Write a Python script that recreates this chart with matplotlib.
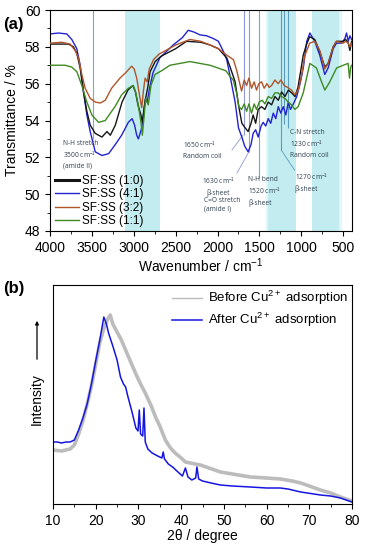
import numpy as np
import matplotlib
matplotlib.use("Agg")
import matplotlib.pyplot as plt
from matplotlib.ticker import MultipleLocator

plt.rcParams['font.family'] = ['Liberation Sans', 'DejaVu Sans']
plt.rcParams['mathtext.fontset'] = 'custom'
plt.rcParams['mathtext.rm'] = 'Liberation Sans'
plt.rcParams['mathtext.it'] = 'Liberation Sans:italic'
plt.rcParams['mathtext.bf'] = 'Liberation Sans:bold'

# ---- (a) FTIR data ----
wn_10 = [4000, 3900, 3780, 3720, 3680, 3640, 3600, 3560, 3520, 3460, 3380, 3320, 3280, 3220, 3140, 3070,
         3010, 2980, 2950, 2915, 2898, 2867, 2835, 2805, 2745, 2670, 2500, 2370, 2200, 2090, 1990, 1890,
         1850, 1790, 1750, 1710, 1670, 1635, 1600, 1575, 1545, 1515, 1475, 1435, 1395, 1355, 1315, 1275,
         1235, 1195, 1155, 1115, 1075, 1040, 1000, 977, 940, 900, 840, 780, 720, 680, 620, 580, 500, 470,
         440, 420, 400]
t_10 = [58.15, 58.15, 58.15, 58.0, 57.65, 56.85, 55.55, 54.5, 53.75, 53.3, 53.1, 53.4, 53.2, 53.75, 55.0, 55.65,
        55.9, 55.55, 54.85, 54.3, 53.9, 55.0, 55.75, 56.65, 57.2, 57.5, 57.9, 58.3, 58.25, 58.1, 57.9, 57.4,
        56.9, 56.1, 54.85, 53.85, 53.6, 53.4, 53.85, 54.3, 53.85, 54.6, 54.75, 54.6, 55.0, 54.85, 55.3, 55.1,
        55.55, 55.3, 55.65, 55.5, 55.3, 55.8, 56.9, 57.55, 58.1, 58.55, 58.4, 57.75, 56.9, 57.1, 58.0, 58.3, 58.3, 58.4,
        58.2, 57.8, 58.3]

wn_41 = [4000, 3900, 3800, 3740, 3680, 3640, 3600, 3560, 3520, 3460, 3380, 3300, 3220, 3145, 3065, 3020,
         2990, 2965, 2945, 2925, 2905, 2880, 2860, 2840, 2810, 2770, 2690, 2530, 2420, 2350, 2280, 2210,
         2130, 2050, 1990, 1930, 1890, 1850, 1790, 1750, 1710, 1675, 1635, 1600, 1575, 1545, 1515, 1480,
         1455, 1425, 1395, 1365, 1335, 1305, 1275, 1245, 1215, 1185, 1155, 1130, 1095, 1055, 1015, 975,
         935, 898, 840, 780, 720, 680, 620, 580, 520, 480, 460, 440, 420, 400]
t_41 = [58.7, 58.75, 58.7, 58.4, 57.9, 57.0, 55.55, 54.3, 53.4, 52.3, 52.1, 52.2, 52.7, 53.2, 53.9, 54.1,
        53.75, 53.2, 53.0, 53.3, 53.6, 54.5, 55.2, 55.0, 55.8, 56.6, 57.4, 58.1, 58.5, 58.9, 58.8, 58.65,
        58.6, 58.45, 58.3, 57.75, 57.3, 56.4, 55.0, 53.6, 53.1, 52.6, 52.3, 52.7, 53.3, 53.5, 53.1, 53.7,
        53.9, 53.7, 54.1, 53.85, 54.4, 54.1, 54.75, 54.4, 54.75, 54.3, 55.0, 54.6, 54.9, 55.3, 56.0, 56.9,
        58.3, 58.75, 58.3, 57.55, 56.5, 56.85, 57.9, 58.2, 58.2, 58.45, 58.75, 58.3, 58.6, 58.4]

wn_32 = [4000, 3860, 3760, 3700, 3660, 3620, 3580, 3520, 3460, 3400, 3340, 3265, 3165, 3085, 3025, 2995,
         2965, 2925, 2905, 2885, 2865, 2840, 2815, 2765, 2700, 2500, 2330, 2200, 2090, 1990, 1890, 1810,
         1770, 1745, 1713, 1682, 1653, 1626, 1594, 1563, 1535, 1507, 1474, 1443, 1411, 1384, 1355, 1315,
         1276, 1244, 1204, 1165, 1117, 1077, 1038, 998, 960, 900, 840, 780, 720, 680, 620, 580, 500, 470,
         440, 420, 400]
t_32 = [58.2, 58.25, 58.15, 57.8, 57.4, 56.5, 55.75, 55.2, 55.0, 54.95, 55.1, 55.75, 56.3, 56.65, 56.95, 56.8,
        56.3, 55.2, 54.7, 55.6, 56.3, 56.1, 56.8, 57.3, 57.6, 58.1, 58.4, 58.3, 58.1, 57.9, 57.55, 57.3,
        56.7, 56.2, 55.6, 56.2, 55.9, 56.3, 55.75, 56.1, 55.65, 56.0, 56.1, 55.75, 56.0, 55.8, 55.9, 56.2,
        56.0, 56.2, 55.9, 55.8, 55.65, 55.4, 55.65, 56.4, 57.5, 58.2, 58.3, 57.8, 56.8, 57.1, 58.0, 58.3, 58.2, 58.3,
        58.2, 58.0, 58.2]

wn_11 = [4000, 3820, 3740, 3680, 3620, 3560, 3500, 3420, 3340, 3264, 3224, 3144, 3066, 3006, 2978, 2947,
         2914, 2898, 2875, 2859, 2827, 2795, 2747, 2668, 2568, 2330, 2090, 1900, 1852, 1813, 1773, 1745,
         1713, 1682, 1653, 1626, 1594, 1563, 1535, 1503, 1467, 1434, 1395, 1355, 1315, 1276, 1235, 1196,
         1157, 1117, 1077, 1038, 977, 898, 819, 759, 719, 660, 579, 500, 441, 425, 410, 400]
t_11 = [57.0, 57.0, 56.9, 56.65, 55.9, 55.0, 54.3, 53.9, 54.0, 54.5, 54.75, 55.4, 55.75, 55.9, 55.55, 54.85,
        53.9, 53.2, 54.3, 55.2, 54.85, 55.9, 56.5, 56.7, 57.0, 57.2, 57.0, 56.7, 56.4, 56.2, 55.5, 54.75,
        54.6, 54.9, 54.5, 54.9, 54.4, 54.9, 54.6, 55.0, 55.1, 54.9, 55.3, 55.2, 55.5, 55.5, 55.3, 55.2,
        55.0, 54.85, 54.6, 54.75, 55.5, 57.1, 56.85, 56.1, 55.65, 56.1, 56.85, 57.0, 57.1, 56.3, 56.9, 57.0]

ftir_labels = ['SF:SS (1:0)', 'SF:SS (4:1)', 'SF:SS (3:2)', 'SF:SS (1:1)']
ftir_colors = ['#151515', '#2323d0', '#b0552a', '#3f8a22']

bands = [(3105, 2690), (1398, 1064), (873, 550)]

# ---- (b) XRD data ----
tt_before = [10, 12, 14, 15, 16, 17, 18, 19, 20, 21, 22, 22.8, 23.4, 24, 25, 26, 27, 28, 29.3, 30.5, 31.6,
             33, 34, 35, 36.3, 37.5, 38.6, 40, 41, 44.5, 49.2, 52, 56.2, 60, 63.2, 66, 68, 70, 72.6, 75,
             77.3, 80]
i_before = [54, 53, 55, 59, 70, 83, 100, 118, 140, 162, 177, 185, 189, 180, 172, 164, 154, 144, 131, 120, 111,
            98, 87, 78, 64, 56, 51, 46, 42, 39, 32, 30, 27, 26, 25, 23, 21, 18, 14, 11,
            7, 3]
tt_after = [10, 11, 12, 13, 14, 15, 16, 17, 18, 19, 20, 21, 21.9, 22.5, 23, 24, 25, 25.8, 26.5, 27, 27.5,
            28.5, 29.4, 29.9, 30.2, 30.5, 31.0, 31.3, 31.6, 32.2, 33.2, 34.5, 35.5, 35.8, 36.1, 37, 38, 39,
            40.3, 41.0, 41.6, 42.5, 43.4, 43.7, 44.1, 45, 47, 49.2, 52, 56.2, 60, 63.2, 65, 68, 72.6, 75,
            77.3, 80]
i_after = [62, 62, 61, 62, 62, 64, 74, 86, 100, 120, 143, 165, 187, 180, 171, 158, 144, 127, 120, 117, 108,
           92, 76, 73, 94, 70, 68, 96, 62, 55, 51, 48, 46, 52, 45, 40, 37, 33,
           28, 36, 27, 24, 26, 37, 25, 23, 21, 19, 18, 17, 16, 16, 15, 12, 9, 8,
           6, 2]

fig = plt.figure(figsize=(3.65, 5.5), dpi=100)

# ================= panel (a) =================
ax1 = fig.add_axes([50/365, 1-231/550, 302/365, 221/550])
for b in bands:
    ax1.axvspan(b[0], b[1], color='#c2ecef', lw=0, zorder=0)
ax1.axvspan(1425, 1398, color='#e2f6f7', lw=0, zorder=0)
ax1.axvspan(550, 515, color='#e2f6f7', lw=0, zorder=0)

# marker lines
ax1.vlines(3483, 53.0, 60, color='#7fa6c6', lw=0.8, zorder=1)
ax1.vlines([1690, 1625], [53.2, 52.3], 60, color='#8e98d8', lw=0.8, zorder=1)
ax1.vlines(1510, 50.9, 60, color='#8e98d8', lw=0.8, zorder=1)
ax1.vlines([1240, 1210, 1160], [52.4, 53.8, 53.6], 60, color='#5b9cba', lw=0.8, zorder=1)
ax1.plot([1828, 1697], [52.4, 53.2], color='#8e98d8', lw=0.6)
ax1.plot([1768, 1625], [51.15, 52.3], color='#8e98d8', lw=0.6)
ax1.plot([1240, 1080], [52.4, 51.3], color='#5b9cba', lw=0.6)

ax1.plot(wn_10, t_10, color=ftir_colors[0], lw=1.0, label=ftir_labels[0], zorder=3)
ax1.plot(wn_41, t_41, color=ftir_colors[1], lw=1.0, label=ftir_labels[1], zorder=2)
ax1.plot(wn_32, t_32, color=ftir_colors[2], lw=1.0, label=ftir_labels[2], zorder=4)
ax1.plot(wn_11, t_11, color=ftir_colors[3], lw=1.0, label=ftir_labels[3], zorder=3)

ann = dict(fontsize=4.8, color='#2f3f4f', va='top', linespacing=1.35, family=['Open Sans', 'DejaVu Sans'])
ax1.text(3845, 52.95, 'N-H stretch\n3500 cm$^{-1}$\n(amide II)', **ann)
ax1.text(2413, 52.95, '1650 cm$^{-1}$\nRandom coil', **ann)
ax1.text(1990, 51.0, '1630 cm$^{-1}$\nβ-sheet', ha='center', multialignment='center', **ann)
ax1.text(2160, 49.85, 'C=O stretch\n(amide I)', **ann)
ax1.text(1637, 51.0, 'N-H bend\n1520 cm$^{-1}$\nβ-sheet', **ann)
ax1.text(1136, 53.55, 'C-N stretch\n1230 cm$^{-1}$\nRandom coil', **ann)
ax1.text(1077, 51.2, '1270 cm$^{-1}$\nβ-sheet', **ann)

ax1.set_xlim(4000, 395)
ax1.set_ylim(48, 60)
ax1.xaxis.set_major_locator(MultipleLocator(500))
ax1.xaxis.set_minor_locator(MultipleLocator(250))
ax1.yaxis.set_major_locator(MultipleLocator(2))
ax1.yaxis.set_minor_locator(MultipleLocator(1))
ax1.tick_params(which='both', direction='out', top=False, right=False, labelsize=10)
ax1.tick_params(which='major', length=3.5)
ax1.tick_params(which='minor', length=2)
ax1.set_xlabel('Wavenumber / cm$^{-1}$', fontsize=10, labelpad=1)
ax1.set_ylabel('Transmittance / %', fontsize=10, labelpad=4)
leg1 = ax1.legend(loc='lower left', bbox_to_anchor=(-0.01, -0.02), frameon=False, fontsize=8.5,
                  handlelength=2.0, handletextpad=0.3, labelspacing=0.12, borderpad=0.2)
leg1.get_lines()[0].set_linewidth(2.2)

# ================= panel (b) =================
ax2 = fig.add_axes([53/365, 1-504/550, 299/365, 219/550])
ax2.plot(tt_before, i_before, color='#bcbcbc', lw=2.6, label='Before Cu$^{2+}$ adsorption')
ax2.plot(tt_after, i_after, color='#1515e0', lw=1.1, label='After Cu$^{2+}$ adsorption')
ax2.set_xlim(10, 80)
ax2.set_ylim(0, 219)
ax2.set_yticks([])
ax2.xaxis.set_major_locator(MultipleLocator(10))
ax2.xaxis.set_minor_locator(MultipleLocator(5))
ax2.tick_params(which='both', direction='out', labelsize=10)
ax2.tick_params(which='major', length=3.5)
ax2.tick_params(which='minor', length=2)
ax2.set_xlabel('2θ / degree', fontsize=10, labelpad=1)
leg2 = ax2.legend(loc='upper right', frameon=False, fontsize=9.5, handlelength=2.3,
                  handletextpad=0.4, labelspacing=0.3, borderpad=0.1, borderaxespad=0.2)
leg2.get_lines()[0].set_linewidth(1.0)

fig.text(37/365, 1-399/550, 'Intensity', rotation=90, ha='center', va='center', fontsize=10)
fig.patches.append(matplotlib.patches.FancyArrowPatch((37/365, 1-362/550), (37/365, 1-318/550),
                   transform=fig.transFigure, arrowstyle='-|>', mutation_scale=5, lw=0.9, color='black'))

fig.text(3/365, 1-25/550, '(a)', fontsize=12, fontweight='bold', va='center')
fig.text(3/365, 1-288/550, '(b)', fontsize=12, fontweight='bold', va='center')

fig.savefig('out.png', dpi=100)
